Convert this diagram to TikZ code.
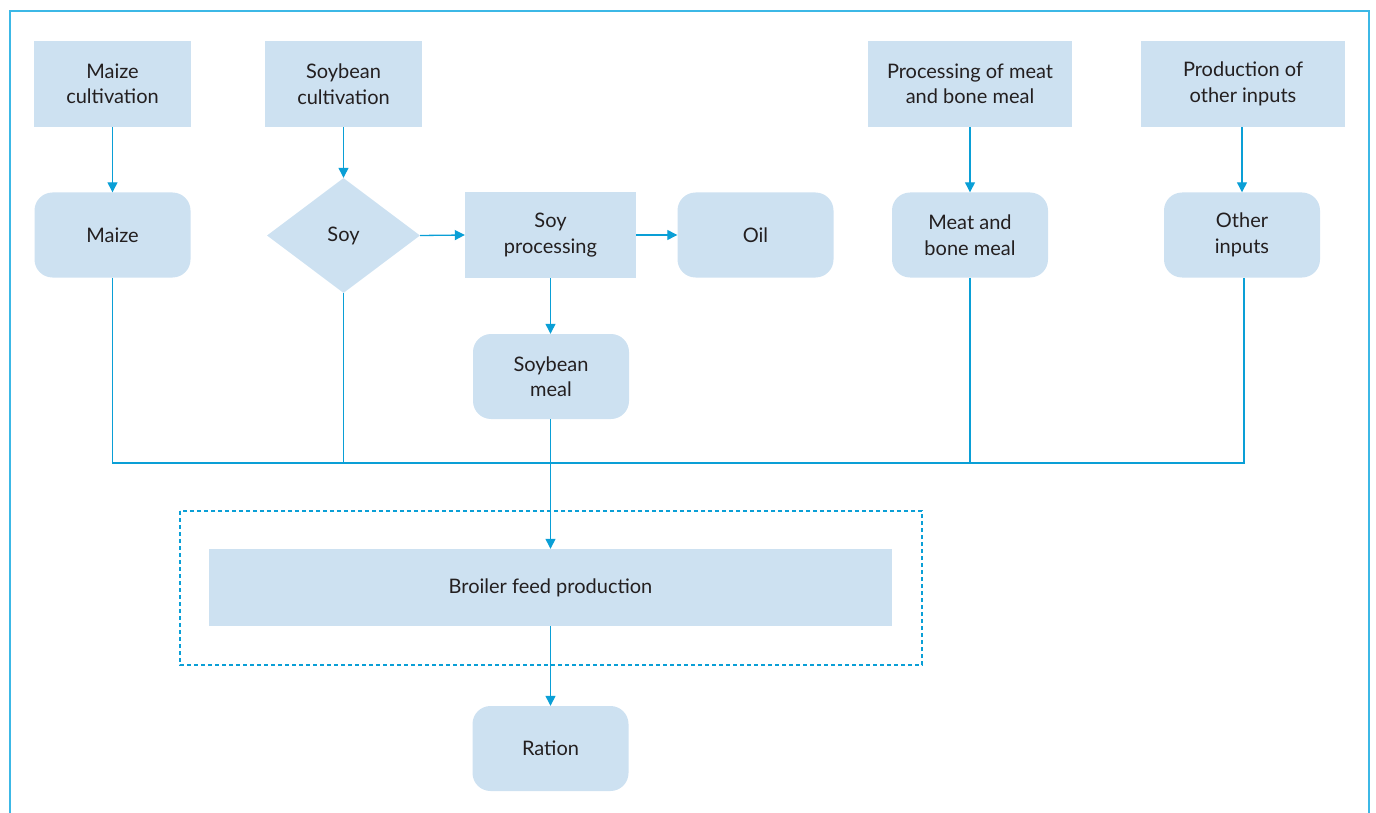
\documentclass[tikz,border=0pt]{standalone}
\usepackage{fontspec}
\setmainfont{Lato}
\usetikzlibrary{shapes.geometric,arrows.meta}
\definecolor{boxfill}{HTML}{CDE1F1}
\definecolor{linecol}{HTML}{0A9FD6}
\definecolor{framecol}{HTML}{3CB8E6}
\definecolor{txt}{HTML}{231F20}
\tikzset{
  base/.style={fill=boxfill,draw=none,text=txt,font=\fontsize{20}{25.5}\selectfont,align=center,inner sep=0pt},
  sqbox/.style={base,minimum height=86pt},
  rbox/.style={base,rounded corners=18pt,minimum width=156pt,minimum height=85pt},
  conn/.style={draw=linecol,line width=1.3pt},
  arr/.style={conn,-{Triangle[width=10pt,length=10pt]}},
}
\begin{document}
\begin{tikzpicture}[x=1pt,y=-1pt]
\useasboundingbox (0,0) rectangle (1376,813);
\draw[framecol,line width=2pt] (10,813) -- (10,11) -- (1369,11) -- (1369,813);
% top row
\node[sqbox,minimum width=157pt] (mc) at (112.5,84) {Maize\\cultivation};
\node[sqbox,minimum width=157pt] (sc) at (343.5,84) {Soybean\\cultivation};
\node[sqbox,minimum width=204pt] (mp) at (970,84) {Processing of meat\\and bone meal};
\node[sqbox,minimum width=204pt] (op) at (1243,84) {Production of\\other inputs};
% second row
\node[rbox] (maize) at (112.5,235) {Maize};
\node[base,diamond,minimum width=153pt,minimum height=115pt] (soy) at (343.5,235.5) {Soy};
\node[sqbox,minimum width=171pt] (sp) at (550.5,235) {Soy\\processing};
\node[rbox] (oil) at (755.5,235) {Oil};
\node[rbox] (mbm) at (970,235) {Meat and\\bone meal};
\node[rbox] (oth) at (1242,235) {Other\\inputs};
\node[rbox] (sbm) at (551,376.5) {Soybean\\meal};
% bottom
\draw[linecol,line width=1.2pt,dash pattern=on 4pt off 3pt] (180,511) rectangle (922,665);
\node[base,minimum width=683pt,minimum height=77pt] (bfp) at (550.5,587.5) {Broiler feed production};
\node[rbox] (rat) at (550.5,748.5) {Ration};
% arrows
\draw[arr] (mc.south) -- (maize.north);
\draw[arr] (sc.south) -- (soy.north);
\draw[arr] (mp.south) -- (mbm.north);
\draw[arr] (op.south -| oth.north) -- (oth.north);
\draw[arr] (soy.east) -- (sp.west);
\draw[arr] (sp.east) -- (oil.west);
\draw[arr] (sp.south) -- (sp.south |- sbm.north);
\coordinate (jl) at (112.5,463);
\coordinate (jr) at (1244,463);
\draw[conn] (maize.south) -- (jl) -- (jr) -- (oth.south -| jr);
\draw[conn] (soy.south) -- (soy.south |- jl);
\draw[conn] (mbm.south) -- (mbm.south |- jl);
\draw[arr] (sbm.south -| bfp.north) -- (bfp.north);
\draw[arr] (bfp.south) -- (rat.north);
\end{tikzpicture}
\end{document}
